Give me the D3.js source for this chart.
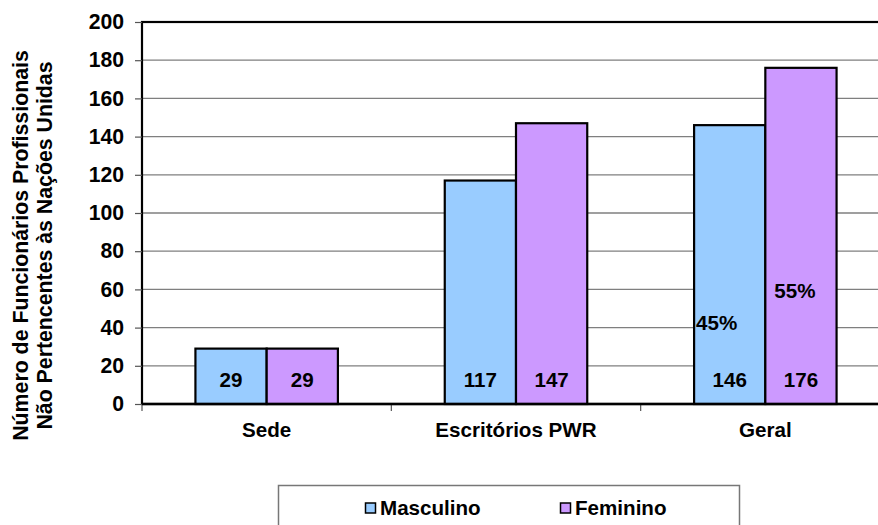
<!DOCTYPE html>
<html><head><meta charset="utf-8">
<script src="https://cdn.jsdelivr.net/npm/d3@7"></script>
<style>html,body{margin:0;padding:0;background:#fff;}svg{display:block;font-family:"Liberation Sans",Arial,sans-serif;font-weight:bold;}</style>
</head><body>
<script>
const categories = ["Sede", "Escritórios PWR", "Geral"];
const seriesNames = ["Masculino", "Feminino"];
const masculino = [29, 117, 146];
const feminino = [29, 147, 176];
const yTicks = [0, 20, 40, 60, 80, 100, 120, 140, 160, 180, 200];
const percentLabels = [{cat: "Geral", series: "Masculino", text: "45%"}, {cat: "Geral", series: "Feminino", text: "55%"}];
const colors = {"Masculino": "#99CCFF", "Feminino": "#CC99FF"};

const W = 878, H = 525;
const svg = d3.select("body").append("svg").attr("width", W).attr("height", H);
const pLeft = 142, pRight = 890, pTop = 22, pBottom = 404;
const fs = 20.6;

const y = d3.scaleLinear().domain([0, 200]).range([pBottom, pTop]);
const x0 = d3.scaleBand().domain(categories).range([pLeft, pRight]).padding(0);
const x1 = d3.scaleBand().domain(seriesNames).range([0, x0.bandwidth()]).paddingInner(0).paddingOuter(0.75);

// gridlines
svg.append("g").selectAll("line").data(yTicks.filter(t => t > 0)).join("line")
  .attr("x1", pLeft).attr("x2", pRight).attr("y1", d => y(d)).attr("y2", d => y(d))
  .attr("stroke", "#7f7f7f").attr("stroke-width", 1.3);

// plot border
svg.append("rect").attr("x", pLeft).attr("y", pTop).attr("width", pRight - pLeft).attr("height", pBottom - pTop)
  .attr("fill", "none").attr("stroke", "#000").attr("stroke-width", 2.2);

// y axis
const yAxis = d3.axisLeft(y).tickValues(yTicks).tickSize(7).tickPadding(11);
const gy = svg.append("g").attr("transform", `translate(${pLeft},0)`).call(yAxis);
gy.select(".domain").remove();
gy.selectAll(".tick line").attr("stroke", "#555").attr("stroke-width", 1.2);
gy.selectAll(".tick text").attr("font-size", 21.2).attr("font-weight", "bold").attr("fill", "#000")
  .attr("font-family", "Liberation Sans, Arial, sans-serif");

// x axis ticks
const boundaries = categories.map(c => x0(c));
svg.append("g").selectAll("line").data(boundaries).join("line")
  .attr("x1", d => d).attr("x2", d => d).attr("y1", pBottom).attr("y2", pBottom + 7)
  .attr("stroke", "#555").attr("stroke-width", 1.2);
svg.append("g").selectAll("text").data(categories).join("text")
  .attr("x", d => x0(d) + x0.bandwidth() / 2).attr("y", 437)
  .attr("text-anchor", "middle").attr("font-size", fs).text(d => d);

// bars
const data = [];
categories.forEach((c, i) => {
  data.push({cat: c, series: "Masculino", value: masculino[i]});
  data.push({cat: c, series: "Feminino", value: feminino[i]});
});
svg.append("g").selectAll("rect").data(data).join("rect")
  .attr("x", d => x0(d.cat) + x1(d.series)).attr("width", x1.bandwidth())
  .attr("y", d => y(d.value)).attr("height", d => y(0) - y(d.value))
  .attr("fill", d => colors[d.series]).attr("stroke", "#000").attr("stroke-width", 2.2);

// bottom axis line on top
svg.append("line").attr("x1", pLeft).attr("x2", pRight).attr("y1", pBottom).attr("y2", pBottom)
  .attr("stroke", "#000").attr("stroke-width", 2.4);

// value labels
svg.append("g").selectAll("text").data(data).join("text")
  .attr("x", d => x0(d.cat) + x1(d.series) + x1.bandwidth() / 2).attr("y", 387)
  .attr("text-anchor", "middle").attr("font-size", fs).text(d => d.value);

// percent labels
svg.append("g").selectAll("text").data(percentLabels).join("text")
  .attr("x", d => x0(d.cat) + x1(d.series) + (d.series === "Masculino" ? 2 : 9))
  .attr("y", d => d.series === "Masculino" ? 330 : 298)
  .attr("font-size", fs).text(d => d.text);

// y title
const yt = svg.append("text").attr("transform", "translate(0,245.5) rotate(-90)")
  .attr("text-anchor", "middle").attr("font-size", 21.3);
yt.append("tspan").attr("x", 0).attr("y", 28).text("Número de Funcionários Profissionais");
yt.append("tspan").attr("x", 0).attr("y", 52).text("Não Pertencentes às Nações Unidas");

// legend
svg.append("rect").attr("x", 278.5).attr("y", 485.5).attr("width", 461).attr("height", 60)
  .attr("fill", "#fff").attr("stroke", "#777").attr("stroke-width", 1.5);
const legX = [365, 560];
const lg = svg.append("g").selectAll("g").data(seriesNames).join("g")
  .attr("transform", (d, i) => `translate(${legX[i]},0)`);
lg.append("rect").attr("x", 0.5).attr("y", 503).attr("width", 10).attr("height", 10)
  .attr("fill", d => colors[d]).attr("stroke", "#000").attr("stroke-width", 1.5);
lg.append("text").attr("x", 15).attr("y", 515).attr("font-size", fs).text(d => d);
</script>
</body></html>
